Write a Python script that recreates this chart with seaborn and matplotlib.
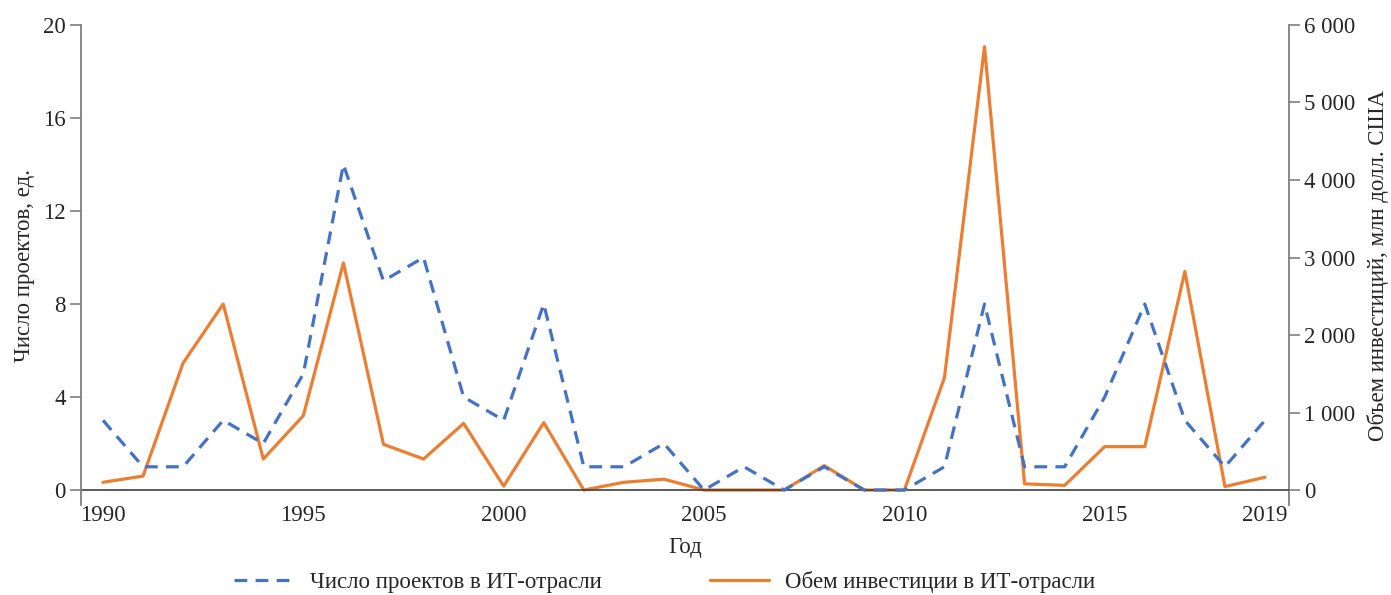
import pandas as pd
import matplotlib.pyplot as plt
import seaborn as sns

# Data
years = list(range(1990, 2020))
projects = [3, 1, 1, 3, 2, 5, 14, 9, 10, 4, 3, 8, 1, 1, 2, 0, 1, 0, 1, 0,
            0, 1, 8, 1, 1, 4, 8, 3, 1, 3]
investment = [100, 180, 1640, 2400, 400, 960, 2930, 590, 400, 860, 50, 870, 0, 100, 140, 0, 0, 0, 315, 0,
              0, 1450, 5720, 80, 60, 560, 560, 2820, 45, 165]
xtick_years = [1990, 1995, 2000, 2005, 2010, 2015, 2019]
left_ticks = [0, 4, 8, 12, 16, 20]
right_ticks = [0, 1000, 2000, 3000, 4000, 5000, 6000]

blue = '#4472C4'
orange = '#ED7D31'
grey = '#7f7f7f'
fs = 16.5

df = pd.DataFrame({'Год': years, 'projects': projects, 'investment': investment})

sns.set_style('white')
plt.rcParams['font.family'] = ['Liberation Serif', 'DejaVu Serif']

fig, ax = plt.subplots(figsize=(13.91, 5.95), dpi=100)
fig.subplots_adjust(left=0.0582, right=0.9267, top=0.958, bottom=0.151)
ax2 = ax.twinx()

sns.lineplot(data=df, x='Год', y='projects', ax=ax, color=blue, linewidth=2.3,
             label='Число проектов в ИТ-отрасли', legend=False)
ax.lines[-1].set_dashes((4, 2.6))
sns.lineplot(data=df, x='Год', y='investment', ax=ax2, color=orange, linewidth=2.3,
             label='Обем инвестиции в ИТ-отрасли', legend=False)

# blue line on top
ax.set_zorder(ax2.get_zorder() + 1)
ax.patch.set_visible(False)

ax.axhline(0, color='#404040', linewidth=1.2, zorder=0)

ax.set_xlim(1989.45, 2019.6)
ax.set_ylim(-0.65, 20)
ax2.set_ylim(-195, 6000)

ax.set_xticks(xtick_years)
ax.set_xticklabels([str(y) for y in xtick_years])
ax.set_yticks(left_ticks)
ax2.set_yticks(right_ticks)
ax2.set_yticklabels([f'{v:,}'.replace(',', ' ') for v in right_ticks])

for a in (ax, ax2):
    for s in ('top', 'bottom'):
        a.spines[s].set_visible(False)
    for s in ('left', 'right'):
        a.spines[s].set_color(grey)
        a.spines[s].set_linewidth(1.3)
    a.tick_params(axis='y', length=8, width=1.2, color=grey, labelsize=fs, pad=3)
    a.tick_params(axis='x', length=0, labelsize=fs, pad=0)
ax2.spines['left'].set_visible(False)
ax.spines['right'].set_visible(False)

ax.set_xlabel('Год', fontsize=fs, labelpad=8)
ax.set_ylabel('Число проектов, ед.', fontsize=fs, labelpad=6)
ax2.set_ylabel('Объем инвестиций, млн долл. США', fontsize=fs, labelpad=8)

h1, l1 = ax.get_legend_handles_labels()
h2, l2 = ax2.get_legend_handles_labels()
fig.legend(h1 + h2, l1 + l2, loc='center', bbox_to_anchor=(0.478, 0.022), ncol=2,
           frameon=False, fontsize=fs, columnspacing=4.7, handlelength=2.6, handletextpad=0.7)

plt.savefig('out.png', dpi=100)
